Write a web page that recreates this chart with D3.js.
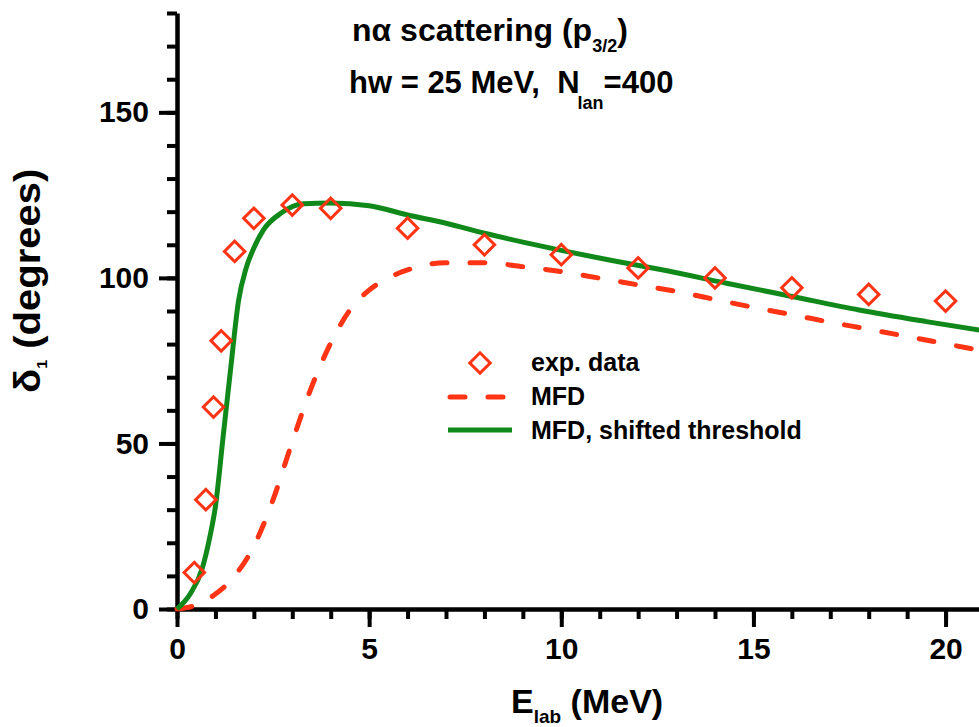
<!DOCTYPE html>
<html>
<head>
<meta charset="utf-8">
<script src="https://cdn.jsdelivr.net/npm/d3@7"></script>
<style>
  body { margin: 0; background: #fff; }
  svg { display: block; }
  text { font-family: "Liberation Sans", Arial, sans-serif; font-weight: bold; fill: #000; white-space: pre; }
</style>
</head>
<body>
<div id="chart"></div>
<script>
// experimental points
var expE     = [0.45, 0.75, 0.95, 1.15, 1.5, 2, 3, 4, 6, 8, 10, 12, 14, 16, 18, 20];
var expDelta = [11, 33, 61, 81, 108, 118, 122, 121, 115, 110, 107, 103, 100, 97, 95, 93];

// MFD (dashed red)
var mfdE     = [0, 0.5, 1, 1.5, 2, 2.5, 3, 3.5, 4, 4.5, 5, 5.5, 6, 7, 8, 9, 10, 11, 12, 13, 14, 15, 16, 17, 18, 19, 20, 21];
var mfdDelta = [0, 1.2, 4.5, 10, 19, 33, 50.5, 67, 80.3, 90.3, 96.3, 100, 102.4, 104.6, 104.6, 103.4, 101.9, 99.9, 97.9, 95.9, 93.5, 91.1, 88.9, 86.6, 84.5, 82.3, 80.1, 77.9];

// MFD, shifted threshold (green)
var shiftE     = [0, 0.35, 0.65, 0.85, 1, 1.2, 1.4, 1.6, 1.8, 2, 2.25, 2.7, 3.3, 4, 5, 6, 7, 8, 9, 10, 11.25, 12.55, 14.3, 16, 17.75, 19.5, 21];
var shiftDelta = [0, 4.7, 12, 21.5, 31, 52, 73, 93, 103, 109, 114.5, 119.5, 122.4, 122.6, 121.8, 119, 116.5, 113.5, 110.8, 108.3, 105.4, 102.6, 98.4, 94.4, 90.3, 86.8, 84];

var xMajor = [0, 5, 10, 15, 20];
var yMajor = [0, 50, 100, 150];

var W = 979, H = 727;
var red = '#ff3414', green = '#11891a';

var svg = d3.select('#chart').append('svg')
  .attr('width', W).attr('height', H);

var x = d3.scaleLinear().domain([0, 21]).range([177, 984]);
var y = d3.scaleLinear().domain([0, 180]).range([609, 13]);

// minor ticks
svg.append('g')
  .attr('transform', 'translate(0,' + y(0) + ')')
  .call(d3.axisBottom(x).tickValues(d3.range(0, 22, 1)).tickSize(10).tickFormat('').tickSizeOuter(0))
  .call(g => g.select('.domain').remove());
svg.append('g')
  .attr('transform', 'translate(' + x(0) + ',0)')
  .call(d3.axisLeft(y).tickValues(d3.range(0, 181, 10)).tickSize(10).tickFormat('').tickSizeOuter(0))
  .call(g => g.select('.domain').remove());

// major ticks with labels
svg.append('g')
  .attr('transform', 'translate(0,' + y(0) + ')')
  .call(d3.axisBottom(x).tickValues(xMajor).tickSize(18).tickPadding(11).tickSizeOuter(0));
svg.append('g')
  .attr('transform', 'translate(' + x(0) + ',0)')
  .call(d3.axisLeft(y).tickValues(yMajor).tickSize(18).tickPadding(10).tickSizeOuter(0));

svg.selectAll('.tick line').attr('stroke', '#000').attr('stroke-width', 4);
svg.selectAll('.domain').attr('stroke', '#000').attr('stroke-width', 4.5);
svg.selectAll('.tick text').attr('font-size', 30).attr('font-family', '"Liberation Sans", Arial, sans-serif').attr('font-weight', 'bold');

// curves
var line = d3.line().x(d => x(d[0])).y(d => y(d[1])).curve(d3.curveMonotoneX);

svg.append('path')
  .datum(d3.zip(mfdE, mfdDelta))
  .attr('d', line)
  .attr('fill', 'none')
  .attr('stroke', red)
  .attr('stroke-width', 5)
  .attr('stroke-linecap', 'round')
  .attr('stroke-dasharray', '15,23');

svg.append('path')
  .datum(d3.zip(shiftE, shiftDelta))
  .attr('d', line)
  .attr('fill', 'none')
  .attr('stroke', green)
  .attr('stroke-width', 5);

var diamond = d3.symbol().type(d3.symbolSquare).size(210);

svg.selectAll('.pt')
  .data(d3.zip(expE, expDelta))
  .enter().append('path')
  .attr('class', 'pt')
  .attr('d', diamond)
  .attr('transform', d => 'translate(' + x(d[0]) + ',' + y(d[1]) + ') rotate(45)')
  .attr('fill', 'none')
  .attr('stroke', red)
  .attr('stroke-width', 3);

// legend
var lg = svg.append('g');
lg.append('path').attr('d', diamond)
  .attr('transform', 'translate(480,363) rotate(45)')
  .attr('fill', 'none').attr('stroke', red).attr('stroke-width', 3);
lg.append('line').attr('x1', 450).attr('x2', 507).attr('y1', 397).attr('y2', 397)
  .attr('stroke', red).attr('stroke-width', 5).attr('stroke-linecap', 'round')
  .attr('stroke-dasharray', '15,23');
lg.append('line').attr('x1', 448).attr('x2', 512).attr('y1', 430).attr('y2', 430)
  .attr('stroke', green).attr('stroke-width', 5);
lg.append('text').attr('x', 531).attr('y', 371).attr('font-size', 25).text('exp. data');
lg.append('text').attr('x', 531).attr('y', 405).attr('font-size', 25).text('MFD');
lg.append('text').attr('x', 531).attr('y', 439).attr('font-size', 25).text('MFD, shifted threshold');

// title lines
var t1 = svg.append('text').attr('x', 352).attr('y', 41).attr('font-size', 32);
t1.append('tspan').text('n\u03b1 scattering (p');
t1.append('tspan').attr('font-size', 18).attr('dy', 11).text('3/2');
t1.append('tspan').attr('dy', -11).text(')');

var t2 = svg.append('text').attr('x', 349).attr('y', 93).attr('font-size', 31);
t2.append('tspan').text('hw = 25 MeV,  N');
t2.append('tspan').attr('font-size', 18).attr('dy', 16).attr('dx', -2).text('lan');
t2.append('tspan').attr('dy', -16).text('=400');

// axis titles
var xt = svg.append('text').attr('x', 511).attr('y', 713).attr('font-size', 34);
xt.append('tspan').text('E');
xt.append('tspan').attr('font-size', 19).attr('dy', 10).text('lab');
xt.append('tspan').attr('dy', -10).text(' (MeV)');

var yt = svg.append('text').attr('transform', 'translate(40,393) rotate(-90) scale(1,0.92)').attr('font-size', 40);
yt.append('tspan').text('\u03b4');
yt.append('tspan').attr('font-size', 16).attr('dy', 8).text('1');
yt.append('tspan').attr('dy', -8).text(' (degrees)');
</script>
</body>
</html>
